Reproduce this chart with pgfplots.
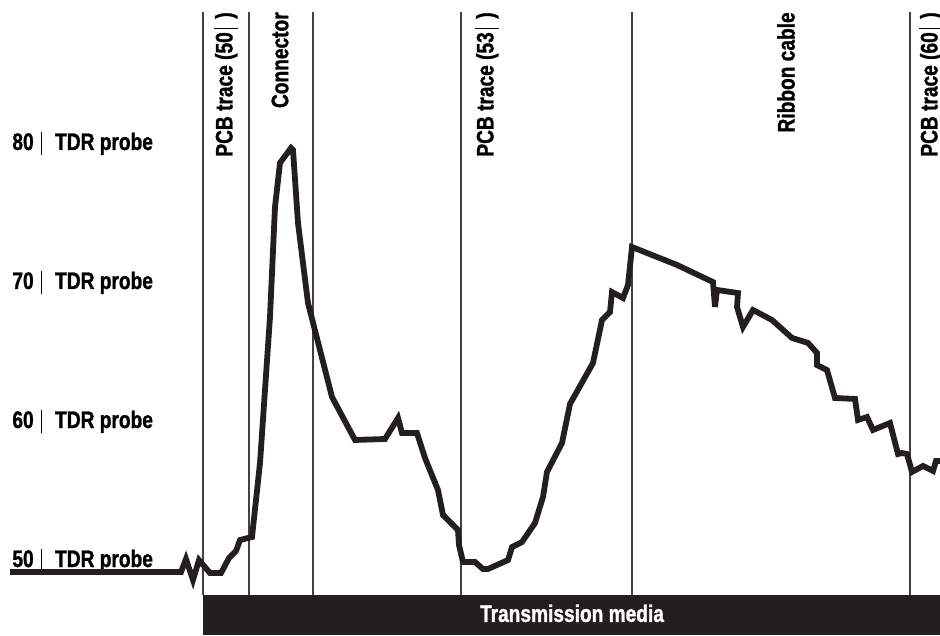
\documentclass[border=0pt]{standalone}
\usepackage{fontspec}
\setmainfont{Liberation Sans}[FakeStretch=0.8, UprightFont=* Bold, UprightFeatures={FakeBold=1.2}]
\usepackage{pgfplots}
\pgfplotsset{compat=1.18}
\definecolor{ink}{HTML}{231F20}
\newcommand{\vbar}{\rule[-0.22em]{0.75bp}{0.98em}}
\begin{document}
\begin{tikzpicture}[every node/.style={font=\fontsize{12}{14}\selectfont}]
\begin{axis}[
  scale only axis, width=470bp, height=317.5bp,
  xmin=0, xmax=940, ymin=44.39, ymax=90.07,
  axis lines=none, clip=false,
]
\coordinate (sw) at (rel axis cs:0,0);
\coordinate (ne) at (rel axis cs:1,1);
% transmission media bar
\fill[ink] (axis cs:203,47.27) rectangle (axis cs:940,44.39);
\node[text=white] at (axis cs:572,45.95) {Transmission media};
% section dividers
\foreach \xx in {203,249,313,461,632,910}{
  \edef\tmp{\noexpand\draw[ink!85, line width=0.7bp] (axis cs:\xx,89.21) -- (axis cs:\xx,47.27);}\tmp
}
% top labels
\node[rotate=90, anchor=east, inner sep=0pt] at (axis cs:226,89.21) {PCB trace (50\hspace{1.5bp}\vbar\hspace{4.5bp})};
\node[rotate=90, anchor=east, inner sep=0pt] at (axis cs:280,89.21) {Connector};
\node[rotate=90, anchor=east, inner sep=0pt] at (axis cs:487,89.21) {PCB trace (53\hspace{1.5bp}\vbar\hspace{4.5bp})};
\node[rotate=90, anchor=east, inner sep=0pt] at (axis cs:786,89.21) {Ribbon cable};
\node[rotate=90, anchor=east, inner sep=0pt] at (axis cs:931,89.21) {PCB trace (60\hspace{1.5bp}\vbar\hspace{4.5bp})};
% left labels
\node[anchor=base west, inner sep=0pt, yshift=-5bp] at (axis cs:12,80) {80\hspace{3.5bp}\vbar\hspace{6.5bp}TDR probe};
\node[anchor=base west, inner sep=0pt, yshift=-5bp] at (axis cs:12,70) {70\hspace{3.5bp}\vbar\hspace{6.5bp}TDR probe};
\node[anchor=base west, inner sep=0pt, yshift=-5bp] at (axis cs:12,60) {60\hspace{3.5bp}\vbar\hspace{6.5bp}TDR probe};
\node[anchor=base west, inner sep=0pt, yshift=-5bp] at (axis cs:12,50) {50\hspace{3.5bp}\vbar\hspace{6.5bp}TDR probe};
\addplot[ink, line width=2.9bp, line join=miter, miter limit=4] coordinates {
(10,48.92) (181,48.92) (186,49.86) (193,48.35) (199,49.78) (210,48.85) (221,48.85)
(229,49.93) (236,50.43) (240,51.22) (248,51.37) (252,51.44) (260,56.76) (270,67.27)
(275,75.18) (280,78.35) (291,79.42) (293,79.28) (298,74.03) (308,68.27) (332,61.51)
(355,58.42) (385,58.49) (398,60.00) (402,58.92) (417,58.92) (425,57.12) (438,54.82)
(443,53.02) (458,51.94) (459,50.86) (463,49.64) (475,49.64) (483,49.14) (488,49.14)
(508,49.78) (512,50.72) (522,51.08) (535,52.45) (543,54.32) (547,56.12) (562,58.20)
(570,61.01) (593,63.96) (602,67.05) (610,67.63) (612,69.06) (623,68.63) (628,69.57)
(632,72.30) (677,71.01) (713,69.78) (715,67.99) (717,69.21) (738,68.99) (737,67.99)
(743,66.55) (753,67.77) (772,67.05) (792,65.76) (808,65.40) (817,64.68) (817,63.81)
(827,63.45) (835,61.44) (855,61.37) (858,59.86) (867,60.07) (873,59.14) (890,59.64)
(898,57.41) (902,57.48) (907,57.41) (912,56.12) (923,56.55) (933,56.19) (936,56.91) (940,56.91)
};
\end{axis}
\pgfresetboundingbox
\path[use as bounding box] (sw) rectangle (ne);
\end{tikzpicture}
\end{document}
